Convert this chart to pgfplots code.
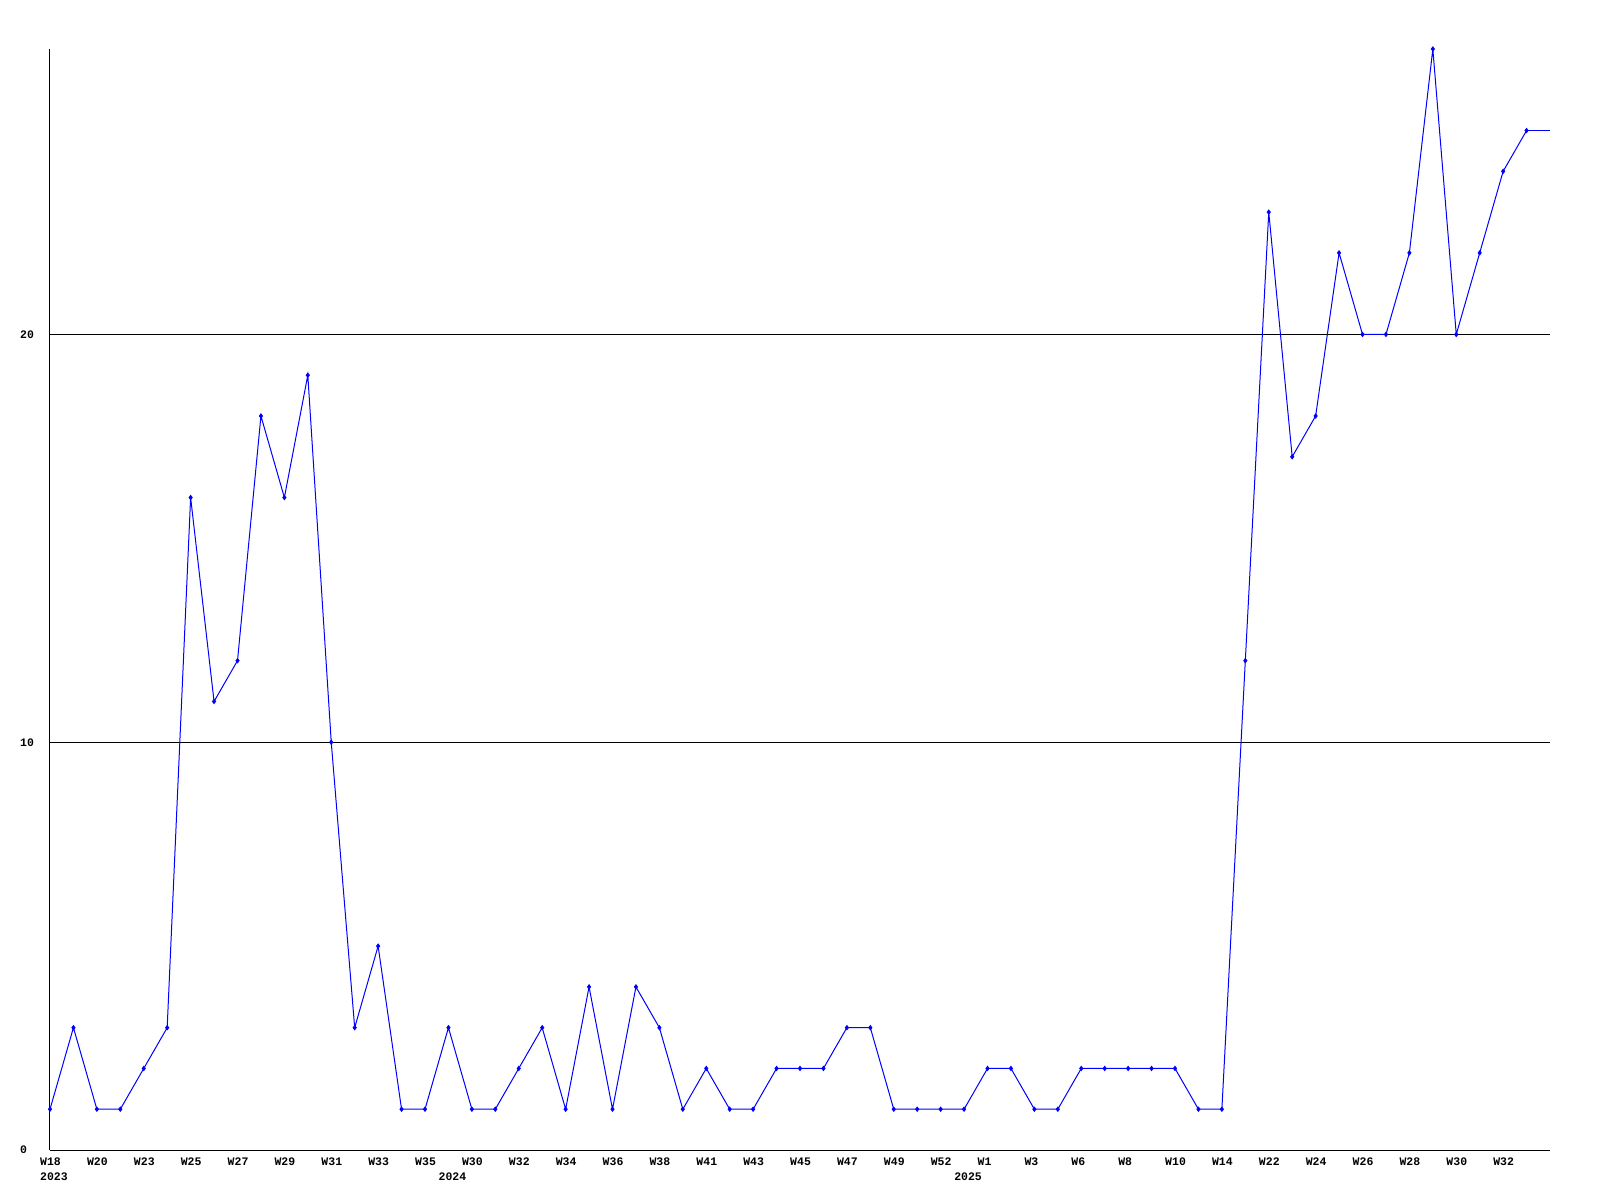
\documentclass[border=0pt]{standalone}
\usepackage{pgfplots}
\pgfplotsset{compat=1.18}
\usepackage{fontspec}
\setmainfont{Liberation Mono}
\pgfplotstableread{
x y
0 1
1 3
2 1
3 1
4 2
5 3
6 16
7 11
8 12
9 18
10 16
11 19
12 10
13 3
14 5
15 1
16 1
17 3
18 1
19 1
20 2
21 3
22 1
23 4
24 1
25 4
26 3
27 1
28 2
29 1
30 1
31 2
32 2
33 2
34 3
35 3
36 1
37 1
38 1
39 1
40 2
41 2
42 1
43 1
44 2
45 2
46 2
47 2
48 2
49 1
50 1
51 12
52 23
53 17
54 18
55 22
56 20
57 20
58 22
59 27
60 20
61 22
62 24
63 25
}\datatable
\pgfplotstableread{
x y
63 25
64 25
}\tailtable
\usepackage{pgfplotstable}
\begin{document}
\begin{tikzpicture}
\begin{axis}[
 scale only axis, width=1500pt, height=1101pt,
 xmin=0, xmax=64, ymin=0, ymax=27,
 axis lines=left, axis line style={line width=1pt,-},
 ytick={0,10,20}, ymajorgrids, grid style={black,line width=1pt},
 xtick={0,2,...,62},
 xticklabels={W18,W20,W23,W25,W27,W29,W31,W33,W35,W30,W32,W34,W36,W38,W41,W43,W45,W47,W49,W52,W1,W3,W6,W8,W10,W14,W22,W24,W26,W28,W30,W32},
 major tick length=0pt,
 tick label style={font=\fontsize{11.5}{12}\selectfont\bfseries},
 xticklabel style={anchor=north west, inner sep=0pt, xshift=-10pt, yshift=-8pt},
 yticklabel style={anchor=west, inner sep=0pt, xshift=-30pt},
 /pgf/number format/assume math mode=true,
 clip=false,
]
\addplot[blue, line width=1pt, mark=diamond*, mark size=2pt, mark options={fill=blue}] table[x=x,y=y] {\datatable};
\addplot[blue, line width=1pt, no marks] table[x=x,y=y] {\tailtable};
\node[anchor=north west, inner sep=0pt, xshift=-10pt, yshift=-23pt, font=\fontsize{11.5}{12}\selectfont\bfseries] at (axis cs:0,0) {2023};
\node[anchor=north west, inner sep=0pt, xshift=-10pt, yshift=-23pt, font=\fontsize{11.5}{12}\selectfont\bfseries] at (axis cs:17,0) {2024};
\node[anchor=north west, inner sep=0pt, xshift=-10pt, yshift=-23pt, font=\fontsize{11.5}{12}\selectfont\bfseries] at (axis cs:39,0) {2025};
\end{axis}
\pgfresetboundingbox
\path (current axis.south west) ++(-50pt,-50pt) rectangle ++(1600pt,1200pt);
\end{tikzpicture}
\end{document}
